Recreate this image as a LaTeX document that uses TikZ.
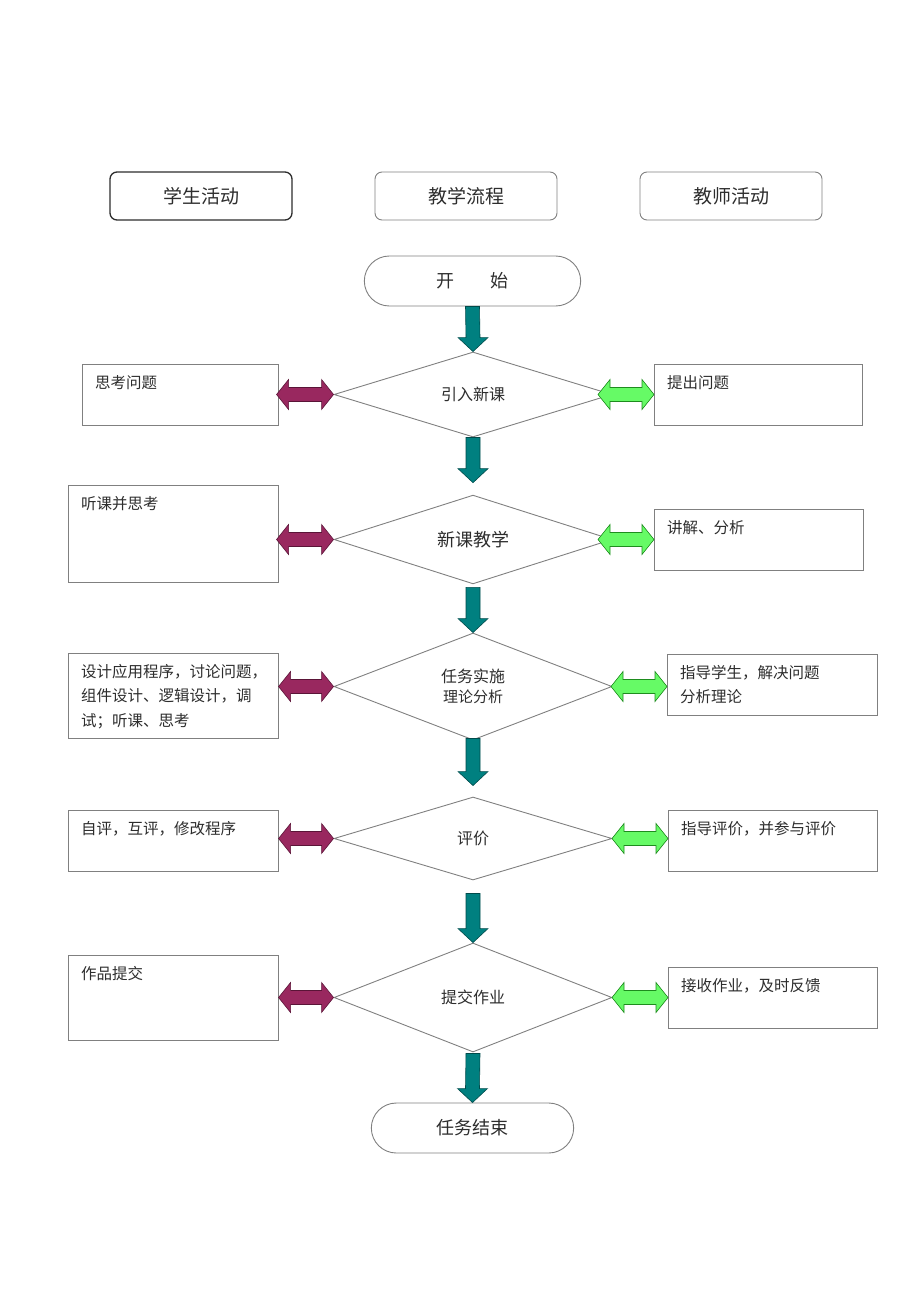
\documentclass[tikz,border=0pt]{standalone}
\usepackage{fontspec}
\setmainfont{Noto Sans CJK SC}
\usepackage {tikz}
\usetikzlibrary {shapes.geometric,shapes.misc}
\usetikzlibrary{calc}
\definecolor{linegray}{RGB}{128,128,128}
\definecolor{inkgray}{RGB}{45,45,45}
\definecolor{flowteal}{RGB}{0,128,128}
\definecolor{darkteal}{RGB}{0,75,75}
\definecolor{plum}{RGB}{153,40,95}
\definecolor{darkplum}{RGB}{90,20,55}
\definecolor{lightgreen}{RGB}{102,250,102}
\definecolor{darkgreen}{RGB}{30,140,30}
\tikzset{flowarrow/.style = {fill=flowteal,draw=darkteal,line width=0.6pt}}
% thick down arrow: from, to, gap below from, gap above to
\newcommand{\flowdown}[4]{\filldraw[flowarrow] ($(#1)+(-7,#3)$) -- ($(#2)+(-7,-14-#4)$) -- ($(#2)+(-15,-14-#4)$) -- ($(#2)+(0,-#4)$) -- ($(#2)+(15,-14-#4)$) -- ($(#2)+(7,-14-#4)$) -- ($(#1)+(7,#3)$) -- cycle;}
% double arrow ending at #2, #3 long
\newcommand{\sidearrow}[3]{\filldraw[#1] (#2) -- ++(-12,-15) -- ++(0,8) -- ++(-#3+24,0) -- ++(0,-8) -- ++(-12,15) -- ++(12,15) -- ++(0,-8) -- ++(#3-24,0) -- ++(0,8) -- cycle;}

\begin{document}
\begin{tikzpicture}[x=1pt,y=-1pt,text=inkgray,
    head/.style={rectangle,rounded corners=7pt,draw=linegray,line width=0.9pt,minimum width=182,minimum height=48,font=\fontsize{19}{21}\selectfont},
    term/.style={rounded rectangle,draw=linegray,line width=0.9pt,minimum height=50,font=\fontsize{18}{20}\selectfont},
    decision/.style={diamond,draw=linegray,line width=0.9pt,fill=white,minimum width=278,minimum height=#1,inner sep=0,font=\fontsize{16}{22}\selectfont,align=center},
    sidebox/.style={rectangle,draw=linegray,line width=0.9pt,anchor=north west,inner sep=0},
    boxtext/.style={anchor=north west,label distance=0,inner sep=0,xshift=13pt,yshift=-11pt,align=left,font=\fontsize{15.5}{24.5}\selectfont},
    purplearrow/.style={fill=plum,draw=darkplum,line width=0.6pt},
    greenarrow/.style={fill=lightgreen,draw=darkgreen,line width=0.6pt}]
\useasboundingbox (0,0) rectangle (920,1301);

\node[head,draw=inkgray,line width=1.3pt] (h1) at (201,196) {学生活动};
\node[head] (h2) at (466,196) {教学流程};
\node[head] (h3) at (731,196) {教师活动};

\node[term,minimum width=223] (0) at (472.5,281) {开\hspace{2em}始};
\node[decision=85] (1) at (473,394.5) {引入新课};
\node[decision=85,font=\fontsize{18}{22}\selectfont] (2) at (473,539.5) {新课教学};
\node[decision=107] (3) at (473,686.5) {任务实施\\[-2pt]{\fontsize{15}{20}\selectfont 理论分析}};
\node[decision=83] (4) at (473,838.5) {评价};
\node[decision=109] (5) at (473,997.5) {提交作业};
\node[term,minimum width=209] (6) at (472.5,1128) {任务结束};

\node[sidebox,minimum width=196,minimum height=61,label={[boxtext]north west:思考问题}] (l1) at (82,364) {};
\node[sidebox,minimum width=208,minimum height=61,label={[boxtext]north west:提出问题}] (r1) at (654,364) {};
\node[sidebox,minimum width=210,minimum height=97,label={[boxtext]north west:听课并思考}] (l2) at (68,485) {};
\node[sidebox,minimum width=209,minimum height=61,label={[boxtext]north west:讲解、分析}] (r2) at (654,509) {};
\node[sidebox,minimum width=210,minimum height=85,label={[boxtext]north west:设计应用程序，讨论问题，\\组件设计、逻辑设计，调\\试；听课、思考}] (l3) at (68,653) {};
\node[sidebox,minimum width=210,minimum height=61,label={[boxtext]north west:指导学生，解决问题\\分析理论}] (r3) at (667,654) {};
\node[sidebox,minimum width=210,minimum height=61,label={[boxtext]north west:自评，互评，修改程序}] (l4) at (68,810) {};
\node[sidebox,minimum width=209,minimum height=61,label={[boxtext]north west:指导评价，并参与评价}] (r4) at (668,810) {};
\node[sidebox,minimum width=210,minimum height=85,label={[boxtext]north west:作品提交}] (l5) at (68,955) {};
\node[sidebox,minimum width=209,minimum height=61,label={[boxtext]north west:接收作业，及时反馈}] (r5) at (668,967) {};

\flowdown{0.south}{1.north}{0}{0}
\flowdown{1.south}{2.north}{0}{12}
\flowdown{2.south}{3.north}{3}{0}
\flowdown{3.south}{4.north}{-2}{11}
\flowdown{4.south}{5.north}{13}{0}
\flowdown{5.south}{6.north}{1}{0}

\sidearrow{purplearrow}{1.west}{57}
\sidearrow{purplearrow}{2.west}{57}
\sidearrow{purplearrow}{3.west}{55}
\sidearrow{purplearrow}{4.west}{55}
\sidearrow{purplearrow}{5.west}{55}
\sidearrow{greenarrow}{r1.west |- 1.east}{56}
\sidearrow{greenarrow}{r2.west |- 2.east}{56}
\sidearrow{greenarrow}{r3.west |- 3.east}{56}
\sidearrow{greenarrow,yshift=-10pt}{r4.west |- 4.east}{56}
\sidearrow{greenarrow}{r5.west |- 5.east}{56}
\end{tikzpicture}
\end{document}
